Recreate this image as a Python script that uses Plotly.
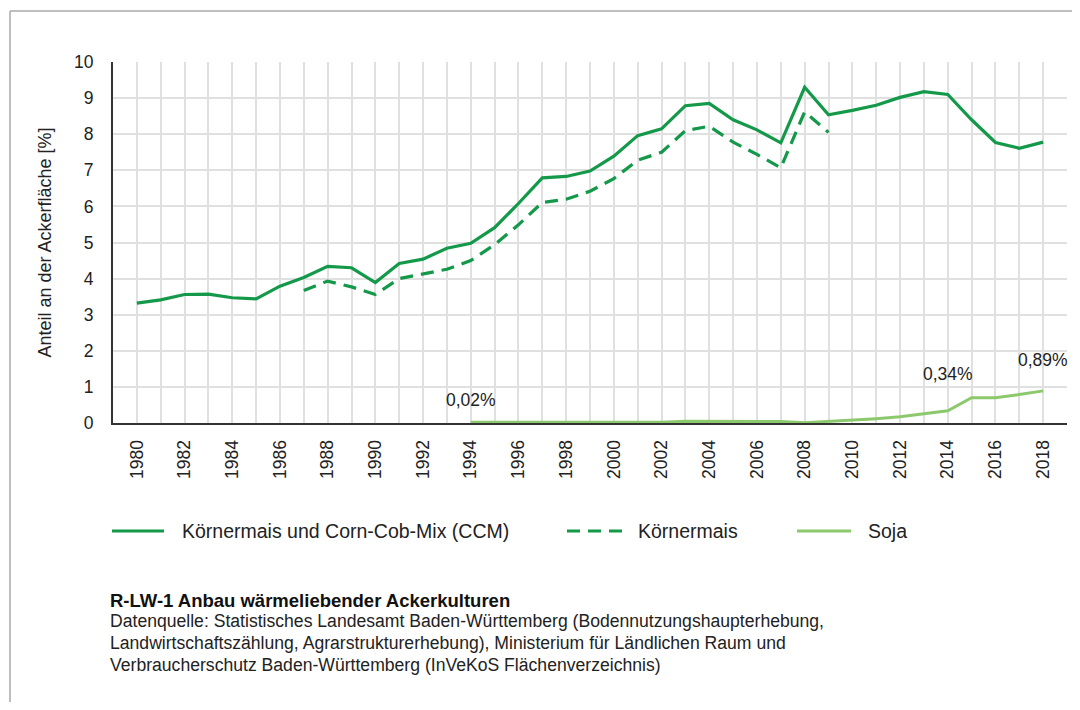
import plotly.graph_objects as go

# ---- data ----
years_ccm = list(range(1980, 2019))
ccm = [3.32, 3.41, 3.56, 3.57, 3.47, 3.44, 3.79, 4.03, 4.34, 4.30,
       3.89, 4.42, 4.54, 4.84, 4.98, 5.41, 6.08, 6.79, 6.83, 6.98,
       7.39, 7.96, 8.15, 8.79, 8.85, 8.40, 8.12, 7.76, 9.30, 8.54,
       8.66, 8.80, 9.02, 9.18, 9.10, 8.40, 7.77, 7.61, 7.78]

years_koern = list(range(1987, 2010))
koern = [3.67, 3.93, 3.77, 3.56, 4.00, 4.14, 4.26, 4.50, 4.94, 5.49,
         6.11, 6.20, 6.42, 6.77, 7.28, 7.50, 8.10, 8.22, 7.78, 7.44,
         7.07, 8.62, 8.05]

years_soja = list(range(1994, 2019))
soja = [0.02, 0.02, 0.02, 0.02, 0.02, 0.02, 0.02, 0.02, 0.02, 0.05,
        0.05, 0.03, 0.04, 0.04, 0.01, 0.04, 0.07, 0.12, 0.17, 0.26,
        0.34, 0.70, 0.70, 0.79, 0.89]

tick_years = list(range(1980, 2019, 2))
tick_labels = [str(y) for y in tick_years]

labels = ["Körnermais und Corn-Cob-Mix (CCM)", "Körnermais", "Soja"]
value_labels = [(1994, 0.02, "0,02%"), (2014, 0.34, "0,34%"), (2018, 0.89, "0,89%")]

DARK = "#14994a"
LIGHT = "#8cc86c"
FONT = "Liberation Sans, Arial, sans-serif"

OFF = 8  # page body margin
W, H = 1080 - 2 * OFF, 710 - 2 * OFF
ML, MT = 113 - OFF, 62 - OFF
MR = W - (1067 - OFF)
MB = H - (423 - OFF)
PW, PH = W - ML - MR, H - MT - MB


def px(x):
    return (x - OFF - ML) / PW


def py(y):
    return (H - MB - (y - OFF)) / PH


fig = go.Figure()
fig.add_trace(go.Scatter(x=years_ccm, y=ccm, mode="lines", name=labels[0],
                         line=dict(color=DARK, width=3.2), showlegend=False))
fig.add_trace(go.Scatter(x=years_koern, y=koern, mode="lines", name=labels[1],
                         line=dict(color=DARK, width=3.2, dash="13px,8px"), showlegend=False))
fig.add_trace(go.Scatter(x=years_soja, y=soja, mode="lines", name=labels[2],
                         line=dict(color=LIGHT, width=3), showlegend=False))

annotations = []
shifts = [10, 25, 19]
for (x, y, t), s in zip(value_labels, shifts):
    annotations.append(dict(x=x, y=y, text=t, showarrow=False, xref="x", yref="y",
                            yanchor="bottom", yshift=s,
                            font=dict(family=FONT, size=17.5, color="#222")))

# legend (manual)
leg_y = 531
shapes = [
    dict(type="line", xref="paper", yref="paper", x0=px(112), x1=px(164), y0=py(leg_y), y1=py(leg_y),
         line=dict(color=DARK, width=3.2)),
    dict(type="line", xref="paper", yref="paper", x0=px(567), x1=px(628), y0=py(leg_y), y1=py(leg_y),
         line=dict(color=DARK, width=3.2, dash="13px,8px")),
    dict(type="line", xref="paper", yref="paper", x0=px(797), x1=px(851), y0=py(leg_y), y1=py(leg_y),
         line=dict(color=LIGHT, width=3.2)),
    # frame lines
    dict(type="line", xref="paper", yref="paper", x0=px(10), x1=px(1080), y0=py(11), y1=py(11),
         line=dict(color="#a8a8a8", width=1.5)),
    dict(type="line", xref="paper", yref="paper", x0=px(10), x1=px(10), y0=py(11), y1=py(710),
         line=dict(color="#a8a8a8", width=1.5)),
]
for xpos, t in zip([180, 636, 866], labels):
    annotations.append(dict(x=px(xpos), y=py(leg_y), xref="paper", yref="paper", text=t,
                            showarrow=False, xanchor="left", yanchor="middle",
                            font=dict(family=FONT, size=19.5, color="#222")))

annotations.append(dict(x=px(108), y=py(600), xref="paper", yref="paper",
                        text="<b>R-LW-1 Anbau wärmeliebender Ackerkulturen</b>",
                        showarrow=False, xanchor="left", yanchor="middle",
                        font=dict(family=FONT, size=18.5, color="#111")))
caption = ["Datenquelle: Statistisches Landesamt Baden-Württemberg (Bodennutzungshaupterhebung,",
           "Landwirtschaftszählung, Agrarstrukturerhebung), Ministerium für Ländlichen Raum und",
           "Verbraucherschutz Baden-Württemberg (InVeKoS Flächenverzeichnis)"]
for i, line in enumerate(caption):
    annotations.append(dict(x=px(108), y=py(621 + 22 * i), xref="paper", yref="paper",
                            text=line, showarrow=False, xanchor="left", yanchor="middle",
                            font=dict(family=FONT, size=17.6, color="#222")))

fig.update_layout(
    width=W, height=H,
    margin=dict(l=ML, r=MR, t=MT, b=MB, pad=0),
    paper_bgcolor="white", plot_bgcolor="white",
    font=dict(family=FONT, size=17, color="#222"),
    showlegend=False,
    shapes=shapes,
    annotations=annotations,
    xaxis=dict(range=[1979, 2019], tickmode="array", tickvals=tick_years, ticktext=tick_labels,
               tickangle=-90, showgrid=True, gridcolor="#e0e0e0", gridwidth=1.5,
               minor=dict(dtick=1, tick0=1979, showgrid=True, gridcolor="#e0e0e0", gridwidth=1.5),
               showline=True, linecolor="#333", linewidth=2, mirror=False,
               ticks="", ticklabelstandoff=8, layer="below traces",
               tickfont=dict(family=FONT, size=17.5, color="#222"), zeroline=False),
    yaxis=dict(range=[0, 10], dtick=1, tick0=0, showgrid=True, gridcolor="#e0e0e0", gridwidth=1.5,
               showline=True, linecolor="#333", linewidth=2, ticks="", ticklabelstandoff=14,
               layer="below traces", zeroline=False,
               title=dict(text="Anteil an der Ackerfläche [%]", standoff=18,
                          font=dict(family=FONT, size=18, color="#222")),
               tickfont=dict(family=FONT, size=17.5, color="#222")),
)

fig.write_html("out.html")
